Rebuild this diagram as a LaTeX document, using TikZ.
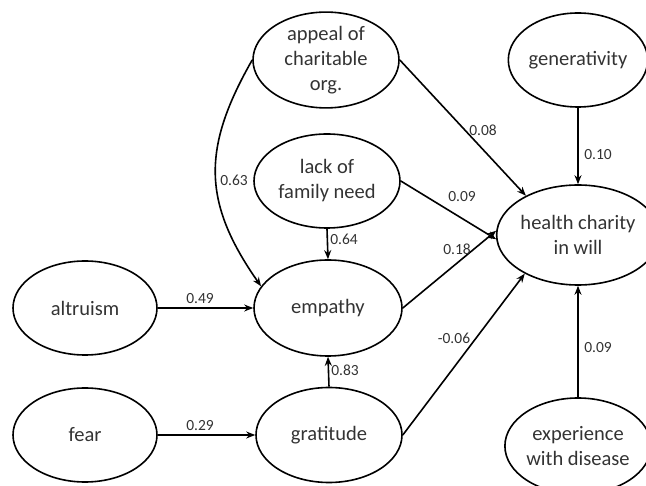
\documentclass[tikz,border=0pt]{standalone}
\usepackage{fontspec}
\setmainfont{Carlito}
\usetikzlibrary{arrows.meta,shapes.geometric}
\begin{document}
\begin{tikzpicture}[x=1pt,y=-1pt,
  latent/.style={ellipse,draw=black,line width=1.6pt,inner sep=0pt,align=center,
    text=black!80,font=\fontsize{20.5}{25}\selectfont,minimum width=146pt,minimum height=94pt},
  rcol/.style={latent,minimum width=136pt},
  path/.style={line width=1.6pt,-{Stealth[length=9pt,width=7pt]}},
  coef/.style={text=black!80,font=\fontsize{15.5}{18}\selectfont,inner sep=0pt}]
\useasboundingbox (0,0) rectangle (646,486);
\clip (0,0) rectangle (646,486);
\node[latent] (appeal) at (326,60) {appeal of\\charitable\\org.};
\node[latent] (lack) at (327,181) {lack of\\family need};
\node[latent,minimum width=148pt,minimum height=96pt] (emp) at (328,308) {empathy};
\node[latent,minimum width=146pt,minimum height=95pt] (grat) at (329,435) {gratitude};
\node[latent,minimum width=144pt] (alt) at (85,308) {altruism};
\node[latent,minimum width=144pt] (fear) at (85,435) {fear};
\node[rcol] (gen) at (578,60) {generativity};
\node[rcol,minimum height=100pt] (hc) at (578,235) {health charity\\in will};
\node[rcol,minimum height=96pt] (exp) at (578,446) {experience\\with disease};

\draw[path] (appeal.west) .. controls (202,148) and (202,202) .. (emp.162);
\draw[path] (appeal.east) -- (hc.143);
\draw[path] (lack.east) -- (hc.183);
\draw[path] (emp.east) -- (hc.177);
\draw[path] (grat.east) -- (hc.216);
\draw[path] (gen.south) -- (hc.north);
\draw[path] (exp.north) -- (hc.south);
\draw[path] (alt.east) -- (emp.west);
\draw[path] (fear.east) -- (grat.west);
\draw[path] (lack.south) -- (emp.north);
\draw[path] (grat.north) -- (emp.south);

\node[coef] (l63) at (234,180) {0.63};
\node[coef] (l08) at (483,130) {0.08};
\node[coef] (l09a) at (462,197) {0.09};
\node[coef] (l64) at (344,239) {0.64};
\node[coef] (l18) at (457,249) {0.18};
\node[coef] (l49) at (200,299) {0.49};
\node[coef] (l29) at (200,426) {0.29};
\node[coef] (l83) at (345,370) {0.83};
\node[coef] (l06) at (454,338) {-0.06};
\node[coef] (l10) at (598,155) {0.10};
\node[coef] (l09b) at (598,348) {0.09};
\end{tikzpicture}
\end{document}
